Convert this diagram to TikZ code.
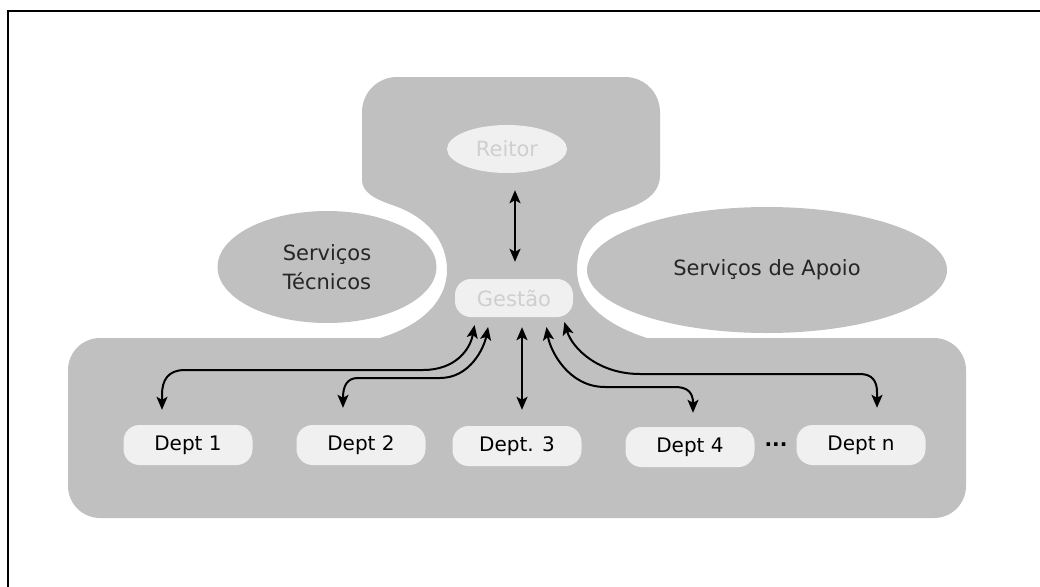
\documentclass[tikz,border=0pt]{standalone}
\usepackage{fontspec}
\setmainfont{DejaVu Sans}
\usetikzlibrary{arrows.meta,shapes.geometric}
\definecolor{panel}{HTML}{C0C0C0}
\definecolor{pale}{HTML}{F0F0F0}
\definecolor{ghost}{HTML}{CFCFCF}
\definecolor{ink}{HTML}{262626}
\begin{document}
\begin{tikzpicture}[x=1pt,y=-1pt,
  blob/.style={ellipse, fill=panel, inner sep=0pt,
    text=ink, align=center, font=\fontsize{21}{29}\selectfont},
  lightbox/.style={fill=pale, inner sep=0pt, text=ghost,
    font=\fontsize{21}{25}\selectfont},
  dept/.style={rectangle, rounded corners=16pt, fill=pale,
    minimum width=129pt, minimum height=40pt, inner sep=0pt,
    text=black, font=\fontsize{20}{24}\selectfont},
  link/.style={draw=black, line width=2pt, <->,
    >={Stealth[length=13pt,width=11pt,inset=3pt]}},
]
\useasboundingbox (0,0) rectangle (1040,586);

% frame
\draw[line width=2pt] (8,590) -- (8,11) -- (1044,11);

% upper panel with its waisted neck between the two service ellipses
\fill[panel] (362,180) [rounded corners=35pt] -- (362,77) -- (660,77) [sharp corners] -- (660,175)
  .. controls (660,196) and (640,205) .. (617,212)
  .. controls (590,221) and (577,243) .. (577,270)
  .. controls (577,300) and (603,324) .. (647,338)
  -- (647,350) -- (380,350) -- (380,338)
  .. controls (420,326) and (447,302) .. (447,270)
  .. controls (447,240) and (426,217) .. (395,206)
  .. controls (374,199) and (362,192) .. (362,180) -- cycle;

% service ellipses
\node[blob, minimum width=219pt, minimum height=112pt] (st) at (327,267) {Serviços\\Técnicos};
\node[blob, minimum width=360pt, minimum height=126pt] (sa) at (767,270) {Serviços de Apoio};

% lower panel
\fill[panel, rounded corners=32pt] (68,338) rectangle (966,518);

% management
\node[lightbox, ellipse, minimum width=120pt, minimum height=48pt] (reitor) at (507,149) {Reitor};
\node[lightbox, rectangle, rounded corners=16pt, minimum width=118pt, minimum height=38pt] (gestao) at (514,298) {Gestão};

% departments
\node[dept] (d1) at (188,445) {Dept 1};
\node[dept] (d2) at (361,445) {Dept 2};
\node[dept] (d3) at (517,446) {Dept. 3};
\node[dept] (d4) at (690,447) {Dept 4};
\node[dept] (dn) at (861,445) {Dept n};
\node[inner sep=0pt, font=\bfseries\fontsize{20}{24}\selectfont] (dots) at (776,445) {...};

% connectors
\draw[link, shorten <=17pt, shorten >=17pt]
  ([xshift=8pt]reitor.south) -- ([xshift=1pt]gestao.north);
\draw[link, shorten <=8pt, shorten >=15pt]
  ([xshift=-38pt]gestao.south) .. controls (470,350) and (455,370) .. (423,370)
  -- (185,370) .. controls (168,370) and (162,380) .. (162,395)
  -- ([xshift=-26pt]d1.north);
\draw[link, shorten <=10pt, shorten >=17pt]
  ([xshift=-24pt]gestao.south) .. controls (484,348) and (470,378) .. (440,378)
  -- (358,378) .. controls (347,378) and (343,386) .. (343,398)
  -- ([xshift=-18pt]d2.north);
\draw[link, shorten <=10pt, shorten >=16pt]
  ([xshift=8pt]gestao.south) -- ([xshift=5pt]d3.north);
\draw[link, shorten <=10pt, shorten >=14pt]
  ([xshift=31pt]gestao.south) .. controls (550,350) and (568,387) .. (605,387)
  -- (675,387) .. controls (688,387) and (693,393) .. (693,403)
  -- ([xshift=3pt]d4.north);
\draw[link, shorten <=5pt, shorten >=17pt]
  ([xshift=49pt]gestao.south) .. controls (572,348) and (598,374) .. (640,374)
  -- (860,374) .. controls (872,374) and (877,381) .. (877,392)
  -- ([xshift=16pt]dn.north);
\end{tikzpicture}
\end{document}
